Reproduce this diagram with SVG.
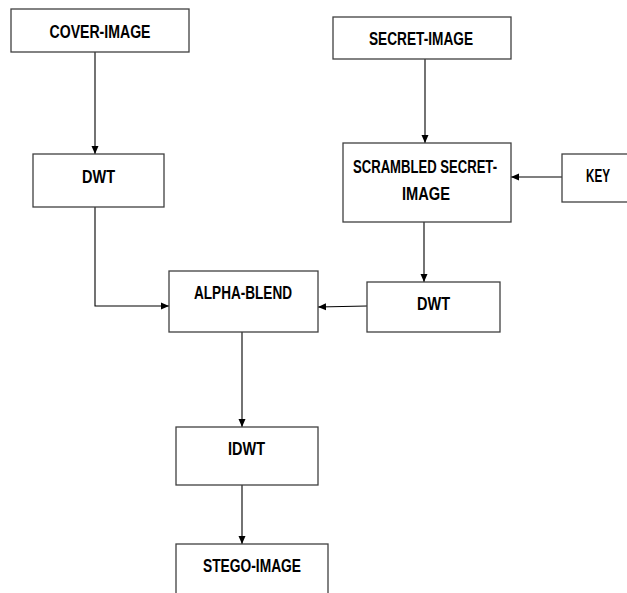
<svg xmlns="http://www.w3.org/2000/svg" width="627" height="593" viewBox="0 0 627 593">
<style>
.box{fill:#fff;stroke:#404040;stroke-width:1.3}
.lbl{font-family:"Liberation Sans",Arial,sans-serif;font-weight:bold;font-size:18px;fill:#000;text-anchor:middle}
.conn{fill:none;stroke:#000;stroke-width:1.1}
</style>
<defs>
<marker id="arr" markerWidth="8" markerHeight="8" refX="8" refY="4" orient="auto" markerUnits="userSpaceOnUse">
<path d="M0,0.5 L8,4 L0,7.5 Z" fill="#000"/>
</marker>
</defs>
<rect width="627" height="593" fill="#fff"/>
<g id="connectors">
<path class="conn" d="M95,52 L95,154" marker-end="url(#arr)"/>
<path class="conn" d="M425,59 L425,143" marker-end="url(#arr)"/>
<path class="conn" d="M562,177 L511,177" marker-end="url(#arr)"/>
<path class="conn" d="M424,222 L424,282" marker-end="url(#arr)"/>
<path class="conn" d="M95,207 L95,306 L169,306" marker-end="url(#arr)"/>
<path class="conn" d="M367,306 L318,307" marker-end="url(#arr)"/>
<path class="conn" d="M242,332 L242,427" marker-end="url(#arr)"/>
<path class="conn" d="M242,485 L242,544" marker-end="url(#arr)"/>
</g>
<g id="cover-image">
<rect class="box" x="11" y="9" width="178" height="43"/>
<text class="lbl" x="100" y="38" textLength="101" lengthAdjust="spacingAndGlyphs">COVER-IMAGE</text>
</g>
<g id="dwt1">
<rect class="box" x="33" y="154" width="131" height="53"/>
<text class="lbl" x="98.5" y="183" textLength="33" lengthAdjust="spacingAndGlyphs">DWT</text>
</g>
<g id="secret-image">
<rect class="box" x="333" y="17" width="178" height="42"/>
<text class="lbl" x="421" y="45" textLength="104" lengthAdjust="spacingAndGlyphs">SECRET-IMAGE</text>
</g>
<g id="scrambled">
<rect class="box" x="343" y="143" width="168" height="79"/>
<text class="lbl" x="425" y="173" textLength="144" lengthAdjust="spacingAndGlyphs">SCRAMBLED SECRET-</text>
<text class="lbl" x="426" y="200" textLength="48" lengthAdjust="spacingAndGlyphs">IMAGE</text>
</g>
<g id="key">
<rect class="box" x="562" y="154" width="70" height="48"/>
<text class="lbl" x="598" y="182" textLength="24" lengthAdjust="spacingAndGlyphs">KEY</text>
</g>
<g id="alpha-blend">
<rect class="box" x="169" y="271" width="149" height="61"/>
<text class="lbl" x="243" y="299" textLength="98" lengthAdjust="spacingAndGlyphs">ALPHA-BLEND</text>
</g>
<g id="dwt2">
<rect class="box" x="367" y="282" width="133" height="50"/>
<text class="lbl" x="433.5" y="310" textLength="33" lengthAdjust="spacingAndGlyphs">DWT</text>
</g>
<g id="idwt">
<rect class="box" x="176" y="427" width="142" height="58"/>
<text class="lbl" x="246.5" y="455" textLength="37" lengthAdjust="spacingAndGlyphs">IDWT</text>
</g>
<g id="stego-image">
<rect class="box" x="176" y="544" width="152" height="60"/>
<text class="lbl" x="252" y="572" textLength="98" lengthAdjust="spacingAndGlyphs">STEGO-IMAGE</text>
</g>
</svg>
